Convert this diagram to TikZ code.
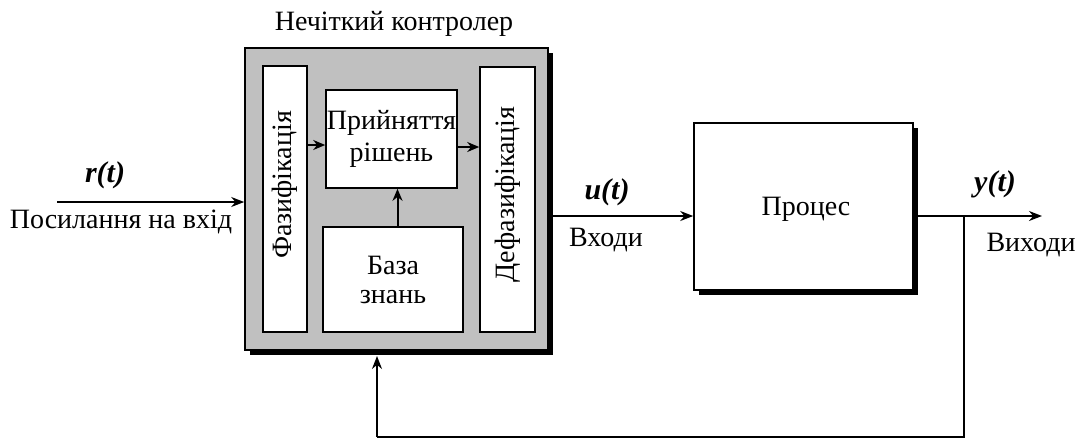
\documentclass[tikz,border=0pt]{standalone}
\usepackage{fontspec}
\setmainfont{Liberation Serif}
\usetikzlibrary{arrows.meta,shadows}
\begin{document}
\begin{tikzpicture}[x=1pt,y=-1pt,
  box/.style={draw=black,line width=1.6pt,fill=white,inner sep=0pt,align=center,font=\fontsize{28}{31}\selectfont},
  shbox/.style={box,drop shadow={shadow xshift=5pt,shadow yshift=-5pt,fill=black,opacity=1}},
  arr/.style={line width=1.6pt,-{Stealth[length=13pt,width=10pt]}},
  iarr/.style={line width=2pt,-{Stealth[length=12pt,width=10pt]}},
  ln/.style={line width=1.3pt},
  lbl/.style={font=\fontsize{28}{31}\selectfont,inner sep=0pt},
  vlbl/.style={font=\fontsize{28}{31}\selectfont,inner sep=0pt,rotate=90},
  sig/.style={font=\fontsize{30}{32}\selectfont\bfseries\itshape,inner sep=0pt}]
\useasboundingbox (0,0) rectangle (1079,440);
% controller
\node[shbox,fill={rgb,255:red,192;green,192;blue,192},minimum width=303pt,minimum height=302pt] (ctrl) at (396.5,199) {};
\node[lbl] (title) at (394,24) {Нечіткий контролер};
\node[box,minimum width=44pt,minimum height=266pt] (fuzz) at (285,199) {};
\node[vlbl] (fuzzt) at ([yshift=14pt]fuzz.center) {Фазифікація};
\node[box,minimum width=131pt,minimum height=98pt] (inf) at (391.5,139) {Прийняття\\[1pt]рішень};
\node[box,minimum width=140pt,minimum height=105pt] (kb) at (393,279.5) {База\\[-2pt]знань};
\node[box,minimum width=55pt,minimum height=265pt] (defuzz) at (507.5,199.5) {};
\node[vlbl] (defuzzt) at ([yshift=5pt]defuzz.center) {Дефазифікація};
% process
\node[shbox,minimum width=219pt,minimum height=167pt] (proc) at (803.5,206.5) {};
\node[lbl] (proct) at (806,209) {Процес};
% internal arrows
\draw[iarr] ([yshift=-6pt]fuzz.east |- inf.west) -- ([yshift=-6pt]inf.west);
\draw[iarr] ([yshift=-8pt]inf.east) -- ([yshift=-8pt]defuzz.west |- inf.east);
\draw[iarr] ([xshift=6pt]kb.north -| inf.south) -- ([xshift=6pt]inf.south);
% input
\coordinate (rin) at (57,202);
\draw[arr] (rin) -- (ctrl.west |- rin);
\node[sig] (rt) at (105,175) {r(t)};
\node[lbl] (rlab) at (121,222) {Посилання на вхід};
% u(t)
\coordinate (uout) at (553,216);
\draw[arr] (uout) -- (proc.west |- uout);
\node[sig] (ut) at (607,192) {u(t)};
\node[lbl] (ulab) at (606,240) {Входи};
% y(t)
\coordinate (pout) at (918,216);
\coordinate (yout) at (1042,216);
\draw[arr] (pout) -- (yout);
\node[sig] (yt) at (995,184) {y(t)};
\node[lbl] (ylab) at (1031,245) {Виходи};
% feedback
\coordinate (fb1) at (964,216);
\coordinate (fb2) at (964,437);
\coordinate (fb3) at (377,437);
\coordinate (fb4) at (377,356);
\draw[ln] (fb1) -- (fb2) -- (fb3);
\draw[arr] (fb3) -- (fb4);
\end{tikzpicture}
\end{document}
